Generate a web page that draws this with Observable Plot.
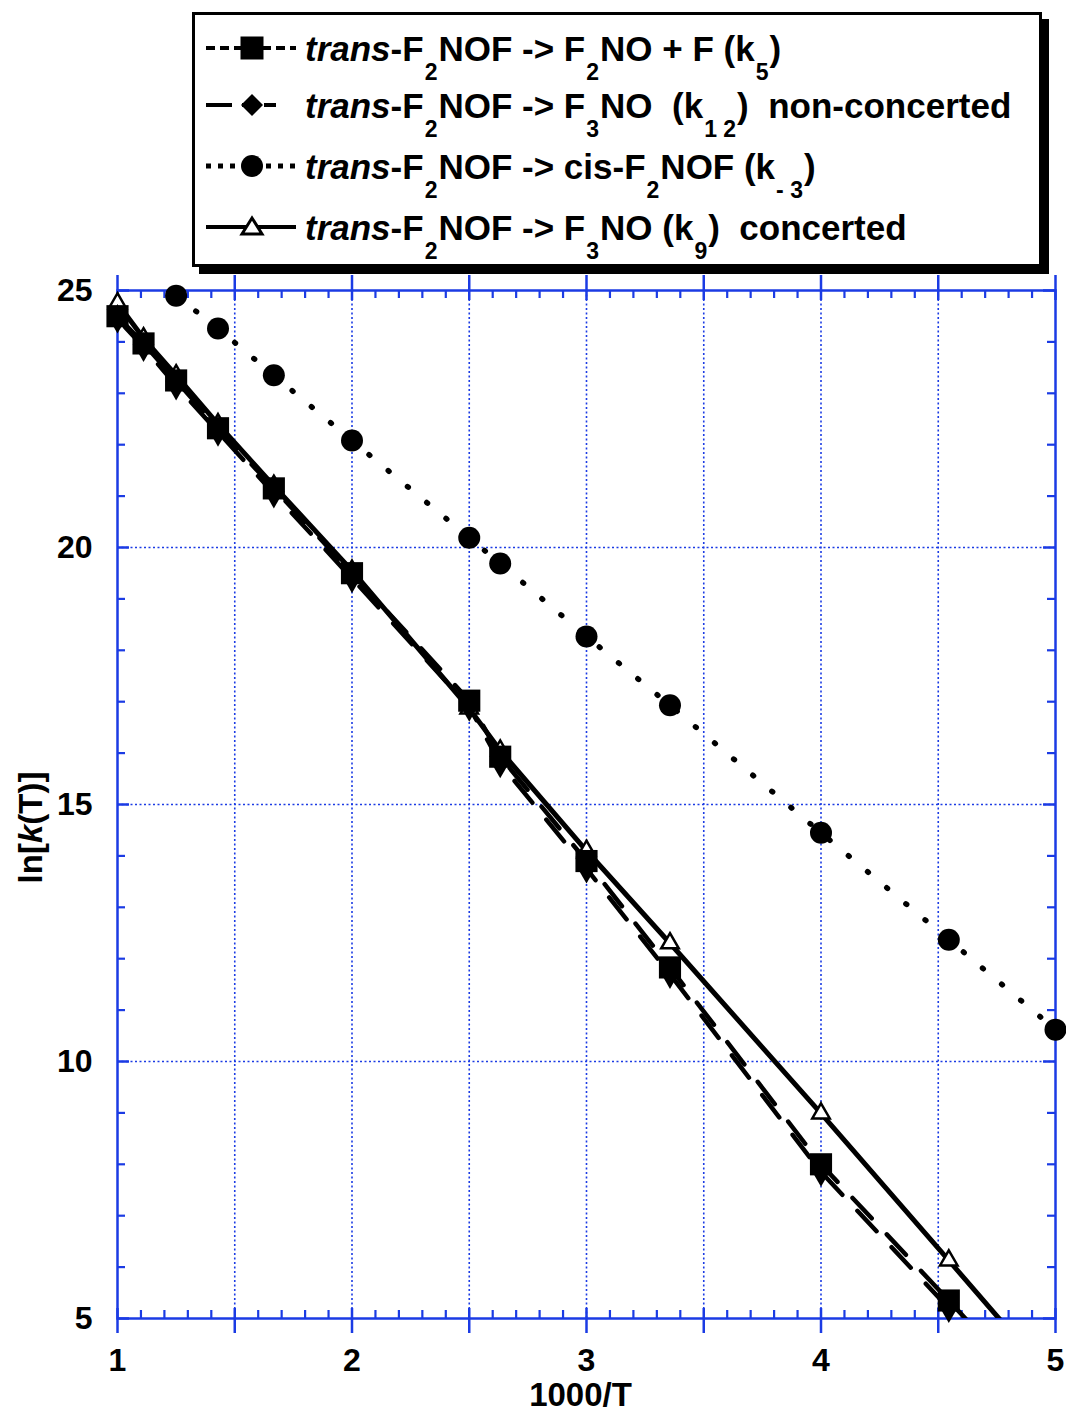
<!DOCTYPE html>
<html>
<head>
<meta charset="utf-8">
<script src="https://cdn.jsdelivr.net/npm/d3@7"></script>
<script src="https://cdn.jsdelivr.net/npm/@observablehq/plot@0.6"></script>
<style>
  html, body { margin: 0; padding: 0; background: #fff; }
  body { width: 1066px; height: 1416px; overflow: hidden; font-family: "Liberation Sans", Arial, sans-serif; }
  #legendWrap { position: relative; width: 1066px; height: 275px; }
  #legendBox { position: absolute; left: 192px; top: 12px; width: 850px; height: 255px; box-sizing: border-box;
    border: 3px solid #000; box-shadow: 7px 7px 0 #000; background: #fff; }
  .row { position: absolute; left: 305px; font-size: 35px; font-weight: bold; line-height: 35px; white-space: pre; color: #000; }
  .row i { font-style: italic; }
  .sub { position: relative; top: 19px; font-size: 23px; margin: 0 1px; }
  #swatches { position: absolute; left: 0; top: 0; }
  #chart svg { display: block; }
</style>
</head>
<body>
<div id="legendWrap">
  <div id="legendBox"></div>
  <svg id="swatches" width="1066" height="275"></svg>
</div>
<div id="chart"></div>
<script>
// ---- data ----
const xs = [1, 1.111, 1.25, 1.4286, 1.6667, 2, 2.5, 2.632, 3, 3.356, 4, 4.545, 5];
const k5  = [24.5, 23.97, 23.25, 22.32, 21.15, 19.5, 17.02, 15.93, 13.9, 11.83, 8.0, 5.35, 3.1];
const k12 = [24.45, 23.9, 23.15, 22.25, 21.05, 19.4, 16.9, 15.8, 13.75, 11.7, 7.85, 5.2, 3.0];
const k9  = [24.75, 24.07, 23.35, 22.4, 21.2, 19.55, 16.87, 16.05, 14.1, 12.3, 8.99, 6.13, 3.73];
const xsCis = [1.25, 1.4286, 1.6667, 2, 2.5, 2.632, 3, 3.356, 4, 4.545, 5];
const kM3 = [24.9, 24.26, 23.35, 22.08, 20.19, 19.69, 18.27, 16.93, 14.45, 12.37, 10.62];

const xLabels = [1, 2, 3, 4, 5];
const yLabels = [5, 10, 15, 20, 25];
const xMajor = [1, 1.5, 2, 2.5, 3, 3.5, 4, 4.5, 5];
const xGrid = [1.5, 2, 2.5, 3, 3.5, 4, 4.5];
const yGrid = [10, 15, 20];
const xMinor = d3.range(11, 50).map(v => v / 10).filter(v => Math.abs(v * 2 - Math.round(v * 2)) > 1e-6);
const yMinor = d3.range(6, 25).filter(v => v % 5 !== 0);
const yMajor = [5, 10, 15, 20, 25];

const legendItems = [
  {key: "k5",  html: '<i>trans</i>-F<span class="sub">2</span>NOF -&gt; F<span class="sub">2</span>NO + F (k<span class="sub">5</span>)'},
  {key: "k12", html: '<i>trans</i>-F<span class="sub">2</span>NOF -&gt; F<span class="sub">3</span>NO  (k<span class="sub">1 2</span>)  non-concerted'},
  {key: "k-3", html: '<i>trans</i>-F<span class="sub">2</span>NOF -&gt; cis-F<span class="sub">2</span>NOF (k<span class="sub">- 3</span>)'},
  {key: "k9",  html: '<i>trans</i>-F<span class="sub">2</span>NOF -&gt; F<span class="sub">3</span>NO (k<span class="sub">9</span>)  concerted'}
];

const rows = (X, Y) => X.map((x, i) => ({x, y: Y[i]}));
const d5 = rows(xs, k5), d12 = rows(xs, k12), d9 = rows(xs, k9), d3c = rows(xsCis, kM3);

const BLUE = "#1b3be4";
const W = 1066, H = 1141, mT = 15, mL = 117, mR = 11, mB = 98;
const pw = W - mL - mR, ph = H - mT - mB;
const inRange = d => d.y >= 5 && d.x <= 5;

const chart = Plot.plot({
  width: W, height: H,
  marginTop: mT, marginLeft: mL, marginRight: mR, marginBottom: mB,
  x: {domain: [1, 5]},
  y: {domain: [5, 25]},
  style: {fontFamily: "Liberation Sans, Arial, sans-serif", fontWeight: "bold", overflow: "visible", background: "white"},
  marks: [
    Plot.ruleX(xGrid, {stroke: BLUE, strokeWidth: 1.6, strokeDasharray: "2,2.5"}),
    Plot.ruleY(yGrid, {stroke: BLUE, strokeWidth: 1.6, strokeDasharray: "2,2.5"}),
    Plot.frame({stroke: BLUE, strokeWidth: 2.5}),
    // bottom / top ticks
    Plot.ruleX(xMinor, {stroke: BLUE, strokeWidth: 2.2, insetTop: ph - 8}),
    Plot.ruleX(xMinor, {stroke: BLUE, strokeWidth: 2.2, insetBottom: ph - 8}),
    Plot.ruleX(xMajor, {stroke: BLUE, strokeWidth: 2.5, insetTop: ph - 10, insetBottom: -15}),
    Plot.ruleX(xMajor, {stroke: BLUE, strokeWidth: 2.5, insetBottom: ph - 10, insetTop: -15}),
    // left / right ticks
    Plot.ruleY(yMinor, {stroke: BLUE, strokeWidth: 2.2, insetRight: pw - 8}),
    Plot.ruleY(yMinor, {stroke: BLUE, strokeWidth: 2.2, insetLeft: pw - 8}),
    Plot.ruleY(yMajor, {stroke: BLUE, strokeWidth: 2.5, insetRight: pw - 12}),
    Plot.ruleY(yMajor, {stroke: BLUE, strokeWidth: 2.5, insetLeft: pw - 12}),
    Plot.axisX({ticks: xLabels, tickFormat: d => String(d), tickSize: 0, tickPadding: 30, fontSize: 32, fontWeight: "bold", label: null}),
    Plot.axisY({ticks: yLabels, tickFormat: d => String(d), tickSize: 0, tickPadding: 25, fontSize: 32, fontWeight: "bold", label: null}),
    Plot.text(["1000/T"], {frameAnchor: "bottom", textAnchor: "middle", lineAnchor: "middle", dx: -6, dy: 77, fontSize: 33, fontWeight: "bold", fill: "black"}),
    Plot.text(["ln[k(T)]"], {frameAnchor: "left", textAnchor: "middle", lineAnchor: "middle", dx: -86, dy: 23, rotate: -90, fontSize: 33, fontWeight: "bold", fill: "black"}),
    // series lines
    Plot.line(d3c, {x: "x", y: "y", stroke: "black", strokeWidth: 5.5, strokeDasharray: "1,24", strokeLinecap: "round", clip: true}),
    Plot.line(d9, {x: "x", y: "y", stroke: "black", strokeWidth: 5, clip: true}),
    Plot.line(d12, {x: "x", y: "y", stroke: "black", strokeWidth: 4.5, strokeDasharray: "28,22", strokeDashoffset: -11, clip: true}),
    Plot.line(d5, {x: "x", y: "y", stroke: "black", strokeWidth: 4.5, strokeDasharray: "28,22", clip: true}),
    // markers
    Plot.dot(d3c, {x: "x", y: "y", r: 11, fill: "black", filter: inRange}),
    Plot.dot(d9, {x: "x", y: "y", symbol: "triangle", r: 6.5, fill: "white", stroke: "black", strokeWidth: 2.5, filter: inRange}),
    Plot.dot(d12, {x: "x", y: "y", symbol: "diamond", r: 9, fill: "black", filter: inRange}),
    Plot.dot(d5, {x: "x", y: "y", symbol: "square", r: 12.5, fill: "black", filter: inRange})
  ]
});
document.getElementById("chart").appendChild(chart);

// italic k in the y label
d3.select(chart).selectAll("text").filter(function () { return this.textContent === "ln[k(T)]"; })
  .each(function () {
    const t = d3.select(this);
    t.text(null);
    t.append("tspan").text("ln[");
    t.append("tspan").attr("font-style", "italic").text("k");
    t.append("tspan").text("(T)]");
  });

// ---- legend ----
const rowY = [48, 105, 166, 227];
const box = document.getElementById("legendWrap");
legendItems.forEach((it, i) => {
  const div = document.createElement("div");
  div.className = "row";
  div.style.top = (rowY[i] - 17) + "px";
  div.innerHTML = it.html;
  box.appendChild(div);
});
const sw = d3.select("#swatches");
const styles = {
  "k5":  {dash: "9,5", w: 4},
  "k12": {dash: "26,10,12,10,12", w: 4},
  "k-3": {dash: "5,7", w: 5},
  "k9":  {dash: null, w: 4}
};
legendItems.forEach((it, i) => {
  const y = rowY[i], s = styles[it.key];
  const ln = sw.append("line").attr("x1", 206).attr("x2", 296).attr("y1", y).attr("y2", y)
    .attr("stroke", "black").attr("stroke-width", s.w);
  if (s.dash) ln.attr("stroke-dasharray", s.dash);
  const g = sw.append("g").attr("transform", `translate(252,${y})`);
  if (it.key === "k5") g.append("rect").attr("x", -11.5).attr("y", -11.5).attr("width", 23).attr("height", 23).attr("fill", "black");
  if (it.key === "k12") g.append("path").attr("d", "M0,-11L11,0L0,11L-11,0Z").attr("fill", "black");
  if (it.key === "k-3") g.append("circle").attr("r", 11).attr("fill", "black");
  if (it.key === "k9") g.append("path").attr("d", "M0,-9L10,7L-10,7Z").attr("fill", "white").attr("stroke", "black").attr("stroke-width", 3);
});
</script>
</body>
</html>
